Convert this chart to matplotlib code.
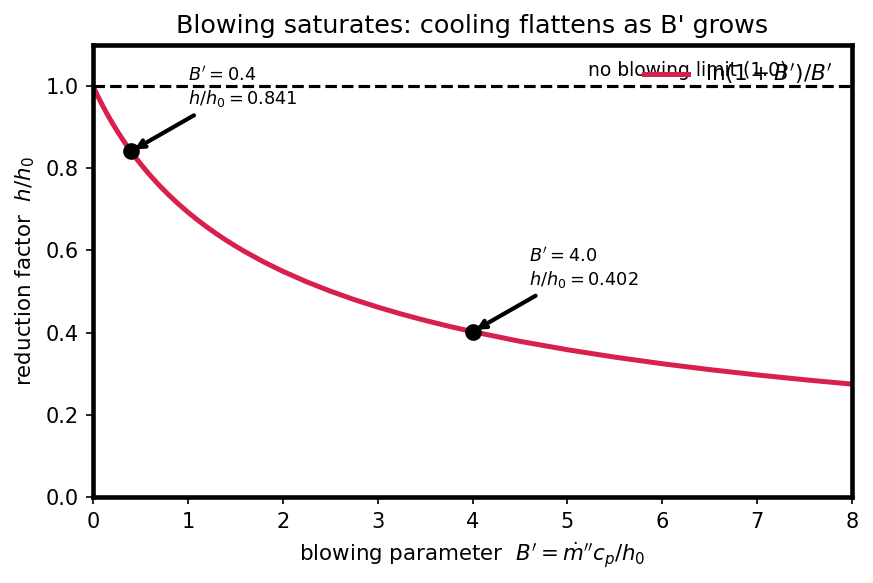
import matplotlib
matplotlib.use('Agg')
import matplotlib.pyplot as plt

# blowing parameter B' and reduction factor h/h0
B = [0.0, 0.05, 0.1, 0.15, 0.2, 0.25, 0.3, 0.35, 0.4, 0.45, 0.5, 0.6, 0.7,
     0.8, 0.9, 1.0, 1.1, 1.2, 1.3, 1.4, 1.5, 1.6, 1.8, 2.0, 2.25, 2.5, 2.75,
     3.0, 3.25, 3.5, 3.75, 4.0, 4.5, 5.0, 5.5, 6.0, 6.5, 7.0, 7.5, 8.0]
h_ratio = [1.0, 0.9758, 0.9531, 0.9317, 0.9116, 0.8926, 0.8745, 0.8574,
           0.8412, 0.8257, 0.8109, 0.7833, 0.7580, 0.7347, 0.7132, 0.6931,
           0.6745, 0.6570, 0.6407, 0.6253, 0.6109, 0.5972, 0.5720, 0.5493,
           0.5238, 0.5011, 0.4806, 0.4621, 0.4452, 0.4297, 0.4155, 0.4024,
           0.3788, 0.3584, 0.3403, 0.3243, 0.3100, 0.2971, 0.2853, 0.2747]

# highlighted points
mark_B = [0.4, 4.0]
mark_h = [0.841, 0.402]

fig = plt.figure(figsize=(5.82, 3.887), dpi=150)
ax = fig.add_axes([0.1065, 0.1475, 0.8695, 0.7753])

ax.plot(B, h_ratio, color='#D7204B', lw=2.4, solid_joinstyle='round',
        label=r"$\ln(1+B')/B'$")
ax.axhline(1.0, color='black', ls='--', lw=1.5)
ax.text(5.22, 1.015, 'no blowing limit (1.0)', fontsize=9, va='bottom')

ax.plot(mark_B, mark_h, 'o', color='black', ms=7, zorder=5)
for bx, hy in zip(mark_B, mark_h):
    ax.annotate(f"$B'={bx:.1f}$\n$h/h_0={hy:.3f}$", xy=(bx, hy),
                xytext=(bx + 0.6, hy + 0.103), fontsize=8.5, va='bottom',
                arrowprops=dict(arrowstyle='->', color='black', lw=2))

ax.set_xlim(0, 8)
ax.set_ylim(0, 1.1)
ax.set_xlabel(r"blowing parameter  $B' = \dot{m}''c_p/h_0$", fontsize=10.25)
ax.set_ylabel(r"reduction factor  $h/h_0$", fontsize=10.25)
ax.set_title("Blowing saturates: cooling flattens as B' grows", fontsize=12.2)
for s in ax.spines.values():
    s.set_linewidth(2.2)
ax.legend(loc='upper right', frameon=False, fontsize=10.4,
          bbox_to_anchor=(1.0, 1.006))

fig.savefig('out.png', dpi=150)
